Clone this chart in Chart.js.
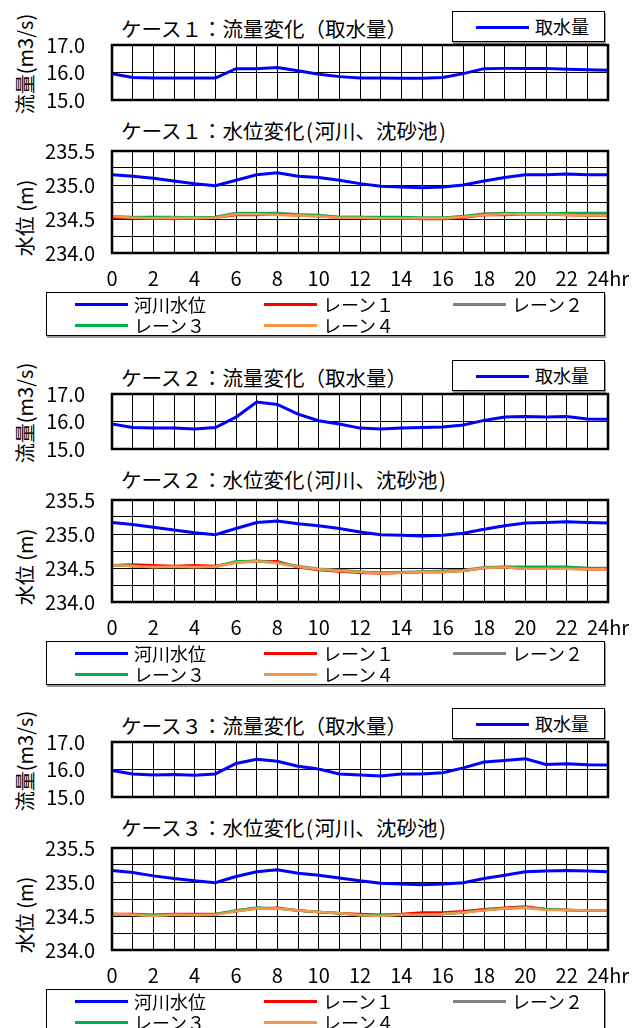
<!DOCTYPE html>
<html lang="ja">
<head>
<meta charset="utf-8">
<script src="https://cdn.jsdelivr.net/npm/chart.js@4.4.1/dist/chart.umd.min.js"></script>
<style>
  body { margin:0; background:#fff; width:634px; height:1028px; overflow:hidden; position:relative; font-family:"Noto Sans CJK JP", sans-serif; color:#000; }
  canvas { position:absolute; left:0; }
  .ttl { position:absolute; left:121px; font-size:20.5px; line-height:24px; white-space:nowrap; }
  .ttl .hp { display:inline-block; width:10px; text-align:center; }
  .ytl { position:absolute; font-size:20px; line-height:22px; white-space:nowrap; transform:translate(-50%,-50%) rotate(-90deg); }
  .lg { position:absolute; border:1px solid #000; background:#fff; box-sizing:border-box; box-shadow:1px 2px 0 #999; }
  .lg .it { position:absolute; font-size:18px; line-height:20px; white-space:nowrap; }
  .lg .ln { position:absolute; height:3px; }
</style>
</head>
<body>
<script>
  // 時刻（hr）
  const hours = [0,1,2,3,4,5,6,7,8,9,10,11,12,13,14,15,16,17,18,19,20,21,22,23,24];
  const xLabels = ["0","2","4","6","8","10","12","14","16","18","20","22","24hr"];

  // 系列名と色
  const flowName = "取水量";
  const levelNames = ["河川水位", "レーン１", "レーン２", "レーン３", "レーン４"];
  const levelColors = ["#0000FF", "#FF0000", "#808080", "#00B050", "#F79646"];

  // ケース１
  const case1Flow  = [15.96,15.82,15.80,15.80,15.80,15.80,16.14,16.14,16.18,16.06,15.94,15.85,15.80,15.80,15.79,15.79,15.82,15.96,16.14,16.15,16.15,16.15,16.12,16.10,16.08];
  const case1River = [235.15,235.13,235.10,235.06,235.02,234.99,235.07,235.15,235.18,235.13,235.11,235.07,235.02,234.98,234.97,234.96,234.97,235.00,235.06,235.11,235.15,235.15,235.16,235.15,235.15];
  const case1Lane1 = [234.52,234.51,234.51,234.50,234.51,234.52,234.56,234.56,234.57,234.55,234.54,234.52,234.51,234.51,234.51,234.50,234.50,234.52,234.56,234.56,234.57,234.57,234.56,234.55,234.55];
  const case1Lane2 = [234.54,234.53,234.53,234.52,234.52,234.53,234.59,234.59,234.59,234.57,234.56,234.53,234.53,234.52,234.52,234.52,234.52,234.54,234.58,234.59,234.58,234.58,234.57,234.56,234.56];
  const case1Lane3 = [234.54,234.52,234.53,234.53,234.52,234.53,234.58,234.58,234.58,234.56,234.55,234.53,234.53,234.53,234.53,234.52,234.52,234.54,234.57,234.58,234.58,234.58,234.59,234.59,234.59];
  const case1Lane4 = [234.54,234.52,234.51,234.52,234.51,234.52,234.57,234.57,234.56,234.55,234.54,234.52,234.52,234.51,234.51,234.51,234.51,234.53,234.56,234.57,234.57,234.57,234.56,234.55,234.55];

  // ケース２
  const case2Flow  = [15.91,15.78,15.76,15.76,15.73,15.78,16.16,16.71,16.62,16.27,16.03,15.91,15.76,15.73,15.76,15.78,15.80,15.87,16.04,16.16,16.18,16.16,16.18,16.09,16.08];
  const case2River = [235.17,235.14,235.10,235.06,235.02,234.99,235.08,235.17,235.19,235.15,235.12,235.08,235.03,234.99,234.98,234.97,234.98,235.01,235.07,235.12,235.16,235.17,235.18,235.17,235.16];
  const case2Lane1 = [234.54,234.55,234.54,234.53,234.54,234.53,234.58,234.60,234.60,234.51,234.47,234.45,234.43,234.42,234.43,234.44,234.44,234.46,234.50,234.51,234.49,234.49,234.49,234.48,234.48];
  const case2Lane2 = [234.54,234.53,234.52,234.52,234.52,234.52,234.59,234.61,234.58,234.53,234.49,234.47,234.45,234.43,234.44,234.45,234.46,234.47,234.51,234.52,234.50,234.50,234.50,234.50,234.50];
  const case2Lane3 = [234.54,234.53,234.52,234.52,234.52,234.52,234.60,234.60,234.58,234.52,234.48,234.46,234.44,234.43,234.43,234.44,234.44,234.46,234.50,234.52,234.52,234.52,234.52,234.50,234.49];
  const case2Lane4 = [234.54,234.53,234.51,234.52,234.51,234.52,234.58,234.60,234.57,234.52,234.48,234.46,234.44,234.42,234.43,234.44,234.44,234.46,234.50,234.51,234.49,234.49,234.49,234.48,234.48];

  // ケース３
  const case3Flow  = [15.96,15.84,15.80,15.82,15.79,15.84,16.22,16.37,16.30,16.12,16.02,15.84,15.80,15.76,15.84,15.84,15.88,16.06,16.27,16.33,16.39,16.18,16.21,16.17,16.16];
  const case3River = [235.17,235.14,235.09,235.05,235.02,234.99,235.08,235.15,235.18,235.13,235.10,235.06,235.02,234.98,234.97,234.96,234.97,234.99,235.05,235.10,235.15,235.16,235.17,235.16,235.15];
  const case3Lane1 = [234.53,234.53,234.52,234.53,234.53,234.53,234.57,234.61,234.62,234.58,234.56,234.54,234.53,234.52,234.53,234.55,234.55,234.57,234.60,234.62,234.64,234.60,234.59,234.58,234.58];
  const case3Lane2 = [234.53,234.52,234.51,234.52,234.52,234.52,234.58,234.62,234.61,234.58,234.56,234.54,234.52,234.51,234.52,234.52,234.53,234.55,234.59,234.61,234.63,234.60,234.59,234.58,234.58];
  const case3Lane3 = [234.53,234.52,234.51,234.52,234.52,234.53,234.58,234.62,234.61,234.58,234.56,234.54,234.51,234.51,234.52,234.52,234.53,234.55,234.59,234.61,234.62,234.60,234.59,234.58,234.58];
  const case3Lane4 = [234.53,234.52,234.50,234.52,234.51,234.52,234.57,234.61,234.61,234.58,234.56,234.54,234.51,234.50,234.52,234.52,234.53,234.55,234.58,234.61,234.62,234.59,234.59,234.58,234.58];

  const cases = [
    { no: "１", flow: case1Flow, levels: [case1River, case1Lane1, case1Lane2, case1Lane3, case1Lane4] },
    { no: "２", flow: case2Flow, levels: [case2River, case2Lane1, case2Lane2, case2Lane3, case2Lane4] },
    { no: "３", flow: case3Flow, levels: [case3River, case3Lane1, case3Lane2, case3Lane3, case3Lane4] }
  ];
  const offsets = [0, 349, 697];

  const tickFont = { family: "'Noto Sans CJK JP', sans-serif", size: 20 };

  // 枠線（プロットエリア）
  const framePlugin = {
    id: "frame",
    afterDraw(chart) {
      const a = chart.chartArea, ctx = chart.ctx;
      ctx.save();
      ctx.strokeStyle = "#000";
      ctx.lineWidth = 2.5;
      ctx.strokeRect(a.left, a.top, a.right - a.left, a.bottom - a.top);
      ctx.restore();
    }
  };

  function addDiv(cls, html, css) {
    const d = document.createElement("div");
    d.className = cls;
    if (html) d.innerHTML = html;
    Object.assign(d.style, css);
    document.body.appendChild(d);
    return d;
  }

  function addCanvas(top, h) {
    const c = document.createElement("canvas");
    c.width = 634; c.height = h;
    c.style.top = top + "px";
    c.style.width = "634px"; c.style.height = h + "px";
    document.body.appendChild(c);
    return c;
  }

  // ラベル分の余白でプロットエリアがずれないようにする
  function xScale(showLabels) {
    return {
      type: "linear", min: 0, max: 24,
      grid: { color: "#000", lineWidth: 1, drawTicks: false },
      border: { display: false },
      ticks: {
        display: showLabels,
        stepSize: 1, autoSkip: false, maxRotation: 0, padding: 13,
        color: "#000", font: tickFont,
        callback: v => (v % 2 === 0 ? xLabels[v / 2] : "")
      },
      afterFit: s => { s.height = showLabels ? 40 : 0; s.paddingLeft = 0; s.paddingRight = 0; }
    };
  }

  function yScale(min, max, step, pad, cb) {
    return {
      min: min, max: max,
      grid: { color: "#000", lineWidth: 1, drawTicks: false },
      border: { display: false },
      ticks: { stepSize: step, autoSkip: false, padding: pad, color: "#000", font: tickFont, callback: cb },
      afterFit: s => { s.width = 112; s.paddingTop = 0; s.paddingBottom = 0; }
    };
  }

  cases.forEach((cs, k) => {
    const dy = offsets[k];

    // ---- 流量変化 ----
    addDiv("ttl", "ケース" + cs.no + "：流量変化（取水量）", { top: (16 + dy) + "px" });
    addDiv("ytl", "流量(m3/s)", { left: "25px", top: (64 + dy) + "px" });
    const fl = addDiv("lg", "", { left: "452px", top: (11 + dy) + "px", width: "153px", height: "31px" });
    const fln = document.createElement("div"); fln.className = "ln";
    Object.assign(fln.style, { left: "23px", width: "53px", top: "14px", background: levelColors[0] });
    fl.appendChild(fln);
    const flt = document.createElement("div"); flt.className = "it"; flt.textContent = flowName;
    Object.assign(flt.style, { left: "82px", top: "4px" });
    fl.appendChild(flt);

    const c1 = addCanvas(30 + dy, 80);
    new Chart(c1, {
      type: "line",
      data: { datasets: [{
        label: flowName,
        data: hours.map((h, i) => ({ x: h, y: cs.flow[i] })),
        borderColor: levelColors[0], borderWidth: 3, pointRadius: 0, tension: 0
      }]},
      options: {
        responsive: false, animation: false, devicePixelRatio: 1,
        layout: { padding: { top: 15, right: 26, bottom: 10, left: 0 } },
        plugins: { legend: { display: false }, tooltip: { enabled: false } },
        scales: {
          x: xScale(false),
          y: yScale(15, 17, 1, 27, v => v.toFixed(1))
        }
      },
      plugins: [framePlugin]
    });

    // ---- 水位変化 ----
    addDiv("ttl", "ケース" + cs.no + "：水位変化<span class=\"hp\">(</span>河川、沈砂池<span class=\"hp\">)</span>", { top: (118 + dy) + "px" });
    addDiv("ytl", "水位 (m)", { left: "25px", top: (218 + dy) + "px" });

    const c2 = addCanvas(136 + dy, 157);
    new Chart(c2, {
      type: "line",
      data: { datasets: cs.levels.map((arr, j) => ({
        label: levelNames[j],
        data: hours.map((h, i) => ({ x: h, y: arr[i] })),
        borderColor: levelColors[j], borderWidth: j === 0 ? 3 : 2.5,
        pointRadius: 0, tension: 0, order: 4 - j
      }))},
      options: {
        responsive: false, animation: false, devicePixelRatio: 1,
        layout: { padding: { top: 15, right: 26, bottom: 0, left: 0 } },
        plugins: { legend: { display: false }, tooltip: { enabled: false } },
        scales: {
          x: xScale(true),
          y: yScale(234, 235.5, 0.25, 17,
            v => (Math.abs(v * 2 - Math.round(v * 2)) < 1e-6 ? v.toFixed(1) : ""))
        }
      },
      plugins: [framePlugin]
    });

    // 凡例
    const lg = addDiv("lg", "", { left: "46px", top: (292 + dy) + "px", width: "559px", height: "44px" });
    levelNames.forEach((name, j) => {
      const col = j % 3, row = Math.floor(j / 3);
      const ln = document.createElement("div"); ln.className = "ln";
      Object.assign(ln.style, { left: (28 + col * 189) + "px", width: "53px", top: (10 + row * 21) + "px", background: levelColors[j] });
      lg.appendChild(ln);
      const t = document.createElement("div"); t.className = "it"; t.textContent = name;
      Object.assign(t.style, { left: (87 + col * 189) + "px", top: (1 + row * 21) + "px" });
      lg.appendChild(t);
    });
  });
</script>
</body>
</html>
